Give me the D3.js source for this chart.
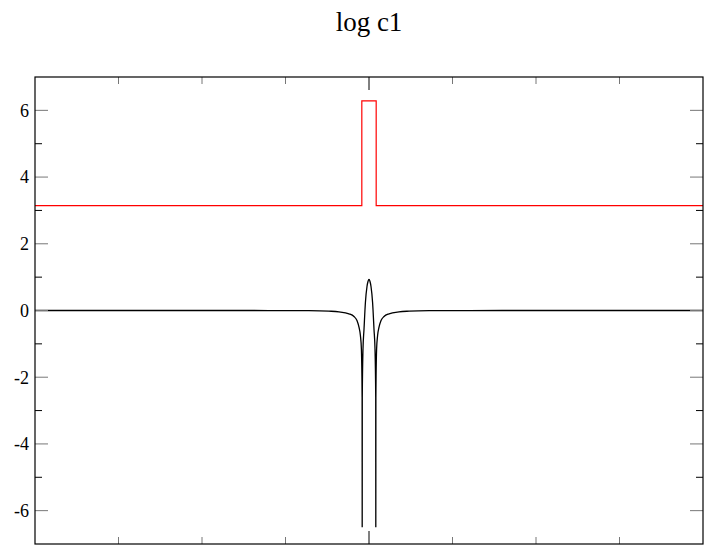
<!DOCTYPE html>
<html>
<head>
<meta charset="utf-8">
<script src="https://cdn.jsdelivr.net/npm/d3@7"></script>
<style>
  html, body { margin: 0; padding: 0; background: #fff; }
  svg { display: block; }
</style>
</head>
<body>
<script>
// ---- data ----
const titleText = "log c1";
const yMajorTicks = [-6, -4, -2, 0, 2, 4, 6];
const yMinorTicks = [-5, -3, -1, 1, 3, 5];
const xMajorTicks = [0];
const xMinorTicks = [-3, -2, -1, 1, 2, 3];

// black series: log |c1|
const logX = [-4, -2, -1.2, -0.72, -0.48, -0.36, -0.24, -0.18, -0.144, -0.12, -0.103, -0.091, -0.0825, -0.0815, -0.0805, -0.072, -0.06, -0.043, -0.024, -0.012, 0,
              0.012, 0.024, 0.043, 0.06, 0.072, 0.0805, 0.0815, 0.0825, 0.091, 0.103, 0.12, 0.144, 0.18, 0.24, 0.36, 0.48, 0.72, 1.2, 2, 4];
const logY = [0, 0, -0.001, -0.005, -0.02, -0.04, -0.1, -0.18, -0.3, -0.5, -0.75, -1.16, -2.6, -6.5, -2.6, -1.16, -0.57, 0.24, 0.72, 0.87, 0.93,
              0.87, 0.72, 0.24, -0.57, -1.16, -2.6, -6.5, -2.6, -1.16, -0.75, -0.5, -0.3, -0.18, -0.1, -0.04, -0.02, -0.005, -0.001, 0, 0];

// red series: phase of c1 (step)
const phaseX = [-4, -0.086, 0.086, 4];
const phaseY = [3.1416, 6.2832, 3.1416, 3.1416];

// ---- layout ----
const W = 704, H = 545;
const mLeft = 35, mRight = 703, mTop = 77, mBottom = 544;

const svg = d3.select("body").append("svg").attr("width", W).attr("height", H);

const x = d3.scaleLinear().domain([-4, 4]).range([mLeft, mRight]);
const y = d3.scaleLinear().domain([-7, 7]).range([mBottom, mTop]);

svg.append("text")
  .attr("x", (mLeft + mRight) / 2).attr("y", 31)
  .attr("text-anchor", "middle")
  .style("font-family", "'Liberation Serif', 'Times New Roman', serif")
  .style("font-size", "27px")
  .text(titleText);

svg.append("defs").append("clipPath").attr("id", "clip")
  .append("rect").attr("x", mLeft).attr("y", mTop).attr("width", mRight - mLeft).attr("height", mBottom - mTop);

const plot = svg.append("g").attr("clip-path", "url(#clip)");

const redData = phaseX.map((v, i) => [v, phaseY[i]]);
plot.append("path")
  .attr("d", d3.line().x(d => x(d[0])).y(d => y(d[1])).curve(d3.curveStepAfter)(redData))
  .attr("fill", "none").attr("stroke", "#ff0000").attr("stroke-width", 1.2);

const blackData = logX.map((v, i) => [v, logY[i]]);
plot.append("path")
  .attr("d", d3.line().x(d => x(d[0])).y(d => y(d[1])).curve(d3.curveMonotoneX)(blackData))
  .attr("fill", "none").attr("stroke", "#000").attr("stroke-width", 1.3);

// ticks
const tickG = svg.append("g");
function yTicks(vals, len, color) {
  vals.forEach(v => {
    tickG.append("line").attr("x1", mLeft).attr("x2", mLeft + len).attr("y1", y(v)).attr("y2", y(v))
      .attr("stroke", color).attr("stroke-width", 1);
    tickG.append("line").attr("x1", mRight - len).attr("x2", mRight).attr("y1", y(v)).attr("y2", y(v))
      .attr("stroke", color).attr("stroke-width", 1);
  });
}
function xTicks(vals, len, color) {
  vals.forEach(v => {
    tickG.append("line").attr("x1", x(v)).attr("x2", x(v)).attr("y1", mTop).attr("y2", mTop + len)
      .attr("stroke", color).attr("stroke-width", 1);
    tickG.append("line").attr("x1", x(v)).attr("x2", x(v)).attr("y1", mBottom - len).attr("y2", mBottom)
      .attr("stroke", color).attr("stroke-width", 1);
  });
}
yTicks(yMajorTicks, 13, "#777");
yTicks(yMinorTicks, 7, "#000");
xTicks(xMajorTicks, 13, "#000");
xTicks(xMinorTicks, 7, "#777");

// y labels
svg.append("g").selectAll("text").data(yMajorTicks).join("text")
  .attr("x", mLeft - 6).attr("y", d => y(d)).attr("dy", "0.35em")
  .attr("text-anchor", "end")
  .style("font-family", "'Liberation Serif', 'Times New Roman', serif")
  .style("font-size", "18px")
  .text(d => d);

// frame
svg.append("rect").attr("x", mLeft).attr("y", mTop).attr("width", mRight - mLeft).attr("height", mBottom - mTop)
  .attr("fill", "none").attr("stroke", "#000").attr("stroke-width", 1.2);
</script>
</body>
</html>
